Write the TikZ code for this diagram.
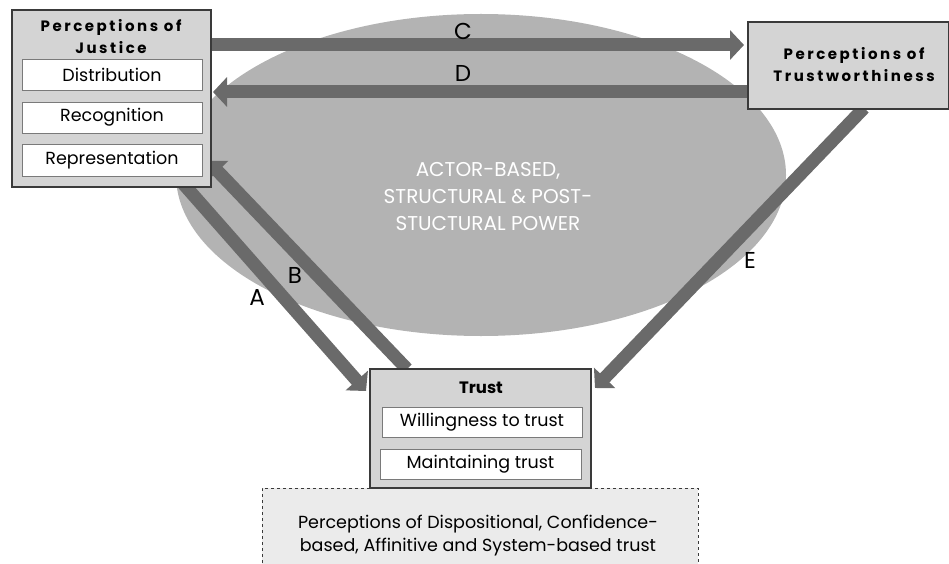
\documentclass[tikz,border=0pt]{standalone}
\usepackage{fontspec}
\setmainfont{Poppins}
\usetikzlibrary{arrows.meta,shapes.geometric}
\definecolor{boxgray}{HTML}{D4D4D4}
\definecolor{edgegray}{HTML}{3A3A3A}
\definecolor{innergray}{HTML}{7A7A7A}
\definecolor{ellgray}{HTML}{B3B3B3}
\definecolor{arrowgray}{HTML}{6A6A6A}
\definecolor{dashfill}{HTML}{EBEBEB}
\begin{document}
\begin{tikzpicture}[x=1pt,y=-1pt,
  bigarrow/.style={draw=arrowgray, line width=13pt, -{Triangle[width=29pt,length=14pt]}},
  outerbox/.style={draw=edgegray, line width=1.3pt, fill=boxgray, inner sep=0pt},
  innerbox/.style={draw=innergray, line width=0.9pt, fill=white, inner sep=0pt, minimum width=180pt, minimum height=31pt, font=\fontsize{17.5}{20}\selectfont},
  titletext/.style={font=\fontsize{15}{18}\selectfont\bfseries\addfontfeature{LetterSpace=17}, inner sep=0pt},
  labeltext/.style={font=\fontsize{23}{26}\selectfont, inner sep=0pt},
  bodytext/.style={font=\fontsize{17.5}{23}\selectfont, inner sep=0pt, align=center}
]
\useasboundingbox (0,0) rectangle (949,564);
% ellipse
\node[ellipse, fill=ellgray, minimum width=610pt, minimum height=322pt, inner sep=0pt] (power) at (481,175) {};
\node[font=\fontsize{20}{27}\selectfont, text=white, align=center, inner sep=0pt] (powertext) at (488,197) {ACTOR-BASED,\\STRUCTURAL \& POST-\\STUCTURAL POWER};
% arrow end points
\coordinate (cS) at (211,45);
\coordinate (cE) at (744,45);
\coordinate (dS) at (748,92);
\coordinate (dE) at (213,92);
\coordinate (aS) at (180,180);
\coordinate (aE) at (366,391);
\coordinate (bS) at (407,369);
\coordinate (bE) at (208,161);
\coordinate (eS) at (864,108);
\coordinate (eE) at (595,388);
\draw[bigarrow] (cS) -- (cE);
\draw[bigarrow] (dS) -- (dE);
\draw[bigarrow] (aS) -- (aE);
\draw[bigarrow] (bS) -- (bE);
\draw[bigarrow] (eS) -- (eE);
% labels
\node[labeltext] (lC) at (463,31) {C};
\node[labeltext] (lD) at (463,73) {D};
\node[labeltext] (lA) at (257,298) {A};
\node[labeltext] (lB) at (295,275) {B};
\node[labeltext] (lE) at (750,260) {E};
% justice box
\node[outerbox, minimum width=199pt, minimum height=177pt] (justice) at (111.5,98.5) {};
\node[titletext] (jt1) at (111,27) {Perceptions of};
\node[titletext] (jt2) at (111,48) {Justice};
\node[innerbox] (dist) at (112,74.5) {Distribution};
\node[innerbox] (recog) at (112,117.5) {Recognition};
\node[innerbox, minimum height=32pt] (repr) at (112,160) {Representation};
% trustworthiness box
\node[outerbox, minimum width=201pt, minimum height=87pt] (trustw) at (848.5,65.5) {};
\node[titletext] (tw1) at (854,55) {Perceptions of};
\node[titletext] (tw2) at (854,76) {Trustworthiness};
% dashed box
\node[draw=edgegray, dashed, line width=0.8pt, fill=dashfill, minimum width=436pt, minimum height=76pt, inner sep=0pt] (disp) at (480,526) {};
\node[bodytext] (disptext) at (478,536) {Perceptions of Dispositional, Confidence-\\based, Affinitive and System-based trust};
% trust box
\node[outerbox, minimum width=221pt, minimum height=119pt] (trust) at (480.5,428.5) {};
\node[font=\fontsize{16.5}{18}\selectfont\bfseries, inner sep=0pt] (trusttitle) at (481,388) {Trust};
\node[innerbox, minimum width=200pt, minimum height=30pt] (will) at (482,422) {Willingness to trust};
\node[innerbox, minimum width=201pt, minimum height=30pt] (maint) at (480.5,464) {Maintaining trust};
\end{tikzpicture}
\end{document}
